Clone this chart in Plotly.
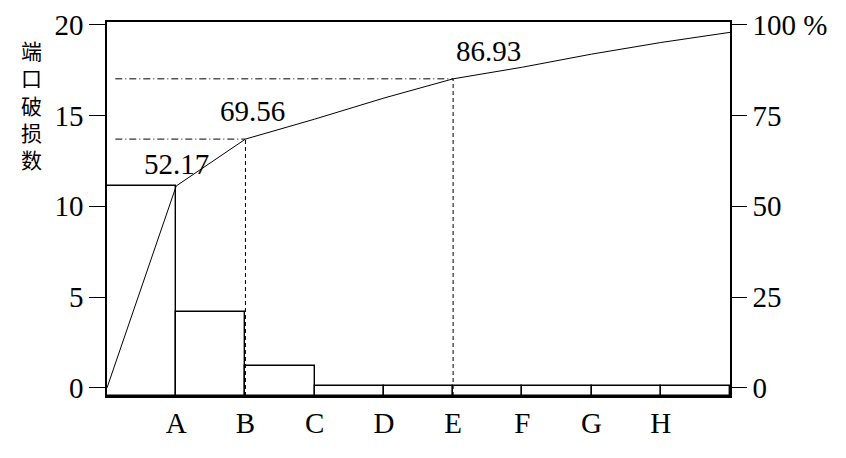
import plotly.graph_objects as go

# ---- data ----
categories = ["A", "B", "C", "D", "E", "F", "G", "H", ""]
counts = [11.1, 4.2, 1.2, 0.1, 0.1, 0.1, 0.1, 0.1, 0.1]
cum_pct = [0, 55.6, 68.5, 74.0, 79.8, 85.1, 88.3, 91.9, 95.1, 97.9]
pct_labels = ["52.17", "69.56", "86.93"]
label_idx = [1, 2, 5]          # boundary index of labelled points
ref_idx = [2, 5]               # boundaries with dashed reference lines
left_ticks = [0, 5, 10, 15, 20]
right_ticks = [0, 25, 50, 75, 100]
right_ticktext = ["0", "25", "50", "75", "100 %"]
ytitle = "端<br>口<br>破<br>损<br>数"

Y_MIN, Y_MAX = -0.45, 20.15
SCALE = 5  # 20 units == 100 %
FONT = "'Times New Roman', 'Liberation Serif', Tinos, 'DejaVu Serif', serif"

n = len(categories)
bar_x = [i + 0.5 for i in range(n)]
bounds = list(range(n + 1))

fig = go.Figure()
fig.add_trace(go.Bar(
    x=bar_x, y=[c - Y_MIN for c in counts], base=Y_MIN, width=1,
    marker=dict(color="white", line=dict(color="black", width=1.4)),
    yaxis="y", showlegend=False, hoverinfo="skip"))

fig.add_trace(go.Scatter(
    x=bounds, y=cum_pct, mode="lines",
    line=dict(color="black", width=1), yaxis="y2", showlegend=False))

# reference lines
for i in ref_idx:
    fig.add_trace(go.Scatter(
        x=[bounds[i], bounds[i]], y=[Y_MIN * SCALE, cum_pct[i]], mode="lines",
        line=dict(color="black", width=1, dash="4px,3px"), yaxis="y2", showlegend=False))
    fig.add_trace(go.Scatter(
        x=[0.12, bounds[i]], y=[cum_pct[i], cum_pct[i]], mode="lines",
        line=dict(color="black", width=1, dash="7px,3px,1px,3px"), yaxis="y2", showlegend=False))

label_style = [dict(xanchor="center", xshift=0, yshift=4),
               dict(xanchor="center", xshift=7, yshift=10),
               dict(xanchor="left", xshift=1, yshift=10)]
annotations = []
for t, i, st in zip(pct_labels, label_idx, label_style):
    annotations.append(dict(
        x=bounds[i], y=cum_pct[i], xref="x", yref="y2", text=t, showarrow=False,
        yanchor="bottom", font=dict(family=FONT, size=29, color="black"), **st))

# the page body adds an 8px offset; compensate so the plot area sits at 107..730 x 22..396
plot_l, plot_r, plot_t, plot_b = 99, 116, 14, 62
W, H = 838, 450
pw, ph = W - plot_l - plot_r, H - plot_t - plot_b

annotations.append(dict(
    x=(31 - 107) / pw, y=(396 - 104) / ph,
    xref="paper", yref="paper", text=ytitle, showarrow=False,
    xanchor="center", yanchor="middle",
    font=dict(family="Noto Sans CJK SC", size=21, color="black")))

fig.update_layout(
    width=W, height=H,
    margin=dict(l=plot_l, r=plot_r, t=plot_t, b=plot_b, autoexpand=False),
    paper_bgcolor="white", plot_bgcolor="white",
    bargap=0,
    font=dict(family=FONT, size=29, color="black"),
    xaxis=dict(
        range=[0, n], tickmode="array", tickvals=bounds[1:n],
        ticktext=categories[:n - 1], ticks="", automargin=False,
        showgrid=False, zeroline=False,
        showline=True, linecolor="black", linewidth=1.5, mirror=True,
        tickfont=dict(family=FONT, size=29)),
    yaxis=dict(
        range=[Y_MIN, Y_MAX], tickmode="array", tickvals=left_ticks,
        ticks="outside", ticklen=16, tickwidth=1.4, tickcolor="black",
        automargin=False,
        showgrid=False, zeroline=False, showline=True, linecolor="black",
        linewidth=1.5, tickfont=dict(family=FONT, size=29)),
    yaxis2=dict(
        range=[Y_MIN * SCALE, Y_MAX * SCALE], overlaying="y", side="right",
        tickmode="array", tickvals=right_ticks, ticktext=right_ticktext,
        ticks="outside", ticklen=15, tickwidth=1.4, tickcolor="black",
        automargin=False,
        showgrid=False, zeroline=False, showline=True, linecolor="black",
        linewidth=1.5, tickfont=dict(family=FONT, size=29)),
    annotations=annotations,
)

fig.write_html("out.html")
